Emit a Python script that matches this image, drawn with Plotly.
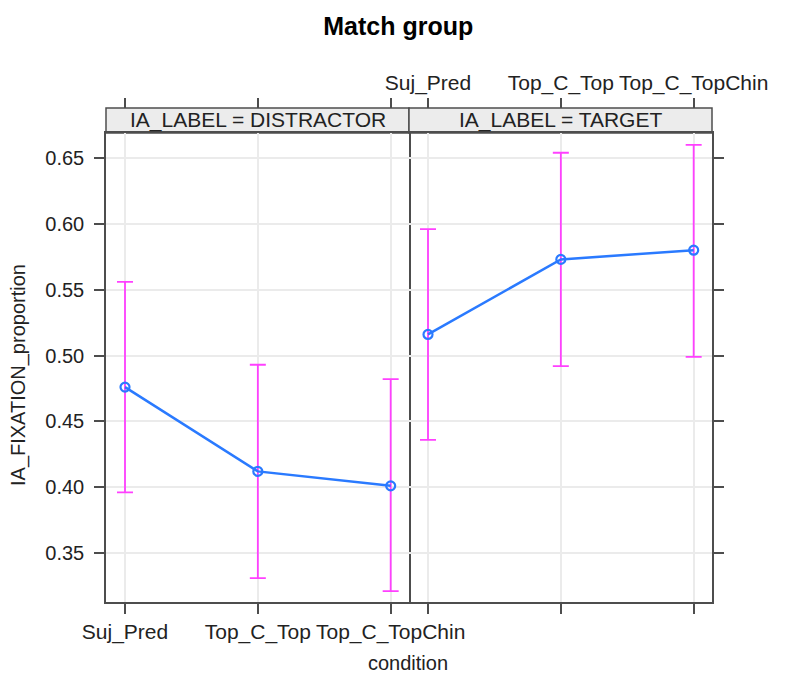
import plotly.graph_objects as go

# effect estimates
conditions = ['Suj_Pred', 'Top_C_Top', 'Top_C_TopChin']
panels = ['DISTRACTOR', 'TARGET']

fit_distractor = [0.476, 0.412, 0.401]
lower_distractor = [0.396, 0.331, 0.321]
upper_distractor = [0.556, 0.493, 0.482]

fit_target = [0.516, 0.573, 0.580]
lower_target = [0.436, 0.492, 0.499]
upper_target = [0.596, 0.654, 0.660]

y_ticks = [0.35, 0.40, 0.45, 0.50, 0.55, 0.60, 0.65]

LINE_BLUE = '#2a7aff'
BAR_PINK = '#ff40ff'
FRAME = '#4d4d4d'
GRID = '#ebebeb'
TEXT = '#222222'

x_idx = list(range(len(conditions)))
x_range = [-0.143, 2.138]
y_range = [0.3128, 0.669]
strip_bottom = 0.9494

fig = go.Figure()

series = [
    (fit_distractor, lower_distractor, upper_distractor, 'x', 'y', 'x3'),
    (fit_target, lower_target, upper_target, 'x2', 'y2', 'x4'),
]
for fit, lo, hi, xa, ya, xtop in series:
    fig.add_trace(
        go.Scatter(
            x=x_idx,
            y=fit,
            xaxis=xa,
            yaxis=ya,
            mode='lines+markers',
            line=dict(color=LINE_BLUE, width=2.5),
            marker=dict(symbol='circle-open', size=9, color=LINE_BLUE, line=dict(width=2.2)),
            error_y=dict(
                type='data',
                array=[h - f for h, f in zip(hi, fit)],
                arrayminus=[f - l for f, l in zip(fit, lo)],
                color=BAR_PINK,
                thickness=1.8,
                width=8,
            ),
            showlegend=False,
        )
    )
    # invisible copy so the top tick axis of the panel gets drawn
    fig.add_trace(
        go.Scatter(
            x=x_idx, y=fit, xaxis=xtop, yaxis=ya,
            mode='markers', marker=dict(opacity=0),
            hoverinfo='skip', showlegend=False,
        )
    )

axis_common = dict(
    showline=True,
    linecolor=FRAME,
    linewidth=1.5,
    mirror=True,
    ticks='outside',
    ticklen=10,
    tickcolor=FRAME,
    tickwidth=1.5,
    showgrid=True,
    gridcolor=GRID,
    gridwidth=1.5,
    zeroline=False,
    tickfont=dict(size=20, color=TEXT),
)

top_common = dict(
    ticks='outside',
    ticklen=10,
    tickcolor=FRAME,
    tickwidth=1.5,
    showgrid=False,
    showline=False,
    zeroline=False,
    anchor='free',
    position=1,
    side='top',
    range=x_range,
    tickmode='array',
    tickvals=x_idx,
    ticktext=conditions,
    tickfont=dict(size=21, color=TEXT),
)

# the page body adds an 8px offset, so the figure is 8px smaller than the window
fig.update_layout(
    width=782,
    height=667,
    margin=dict(l=98, r=78, t=100, b=73),
    paper_bgcolor='white',
    plot_bgcolor='white',
    font=dict(family='Liberation Sans, Arial, sans-serif', size=20, color=TEXT),
    title=dict(
        text='<b>Match group</b>',
        x=0.499,
        y=0.972,
        xanchor='center',
        yanchor='middle',
        font=dict(size=25, color='black'),
    ),
    xaxis=dict(
        axis_common,
        domain=[0, 0.5],
        anchor='y',
        range=x_range,
        tickmode='array',
        tickvals=x_idx,
        ticktext=conditions,
        tickfont=dict(size=21, color=TEXT),
    ),
    xaxis2=dict(
        axis_common,
        domain=[0.5, 1],
        anchor='y2',
        range=x_range,
        tickmode='array',
        tickvals=x_idx,
        ticktext=conditions,
        showticklabels=False,
    ),
    xaxis3=dict(top_common, overlaying='x', showticklabels=False),
    xaxis4=dict(top_common, overlaying='x2', showticklabels=True),
    yaxis=dict(
        axis_common,
        domain=[0, strip_bottom],
        anchor='x',
        range=y_range,
        tickmode='array',
        tickvals=y_ticks,
        tickformat='.2f',
        ticklabelstandoff=6,
    ),
    yaxis2=dict(
        axis_common,
        domain=[0, strip_bottom],
        anchor='x2',
        side='right',
        mirror=False,
        range=y_range,
        tickmode='array',
        tickvals=y_ticks,
        showticklabels=False,
    ),
)

# strip headers above each panel
for i, name in enumerate(panels):
    x0, x1 = i * 0.5, (i + 1) * 0.5
    fig.add_shape(
        type='rect', xref='paper', yref='paper',
        x0=x0, x1=x1, y0=strip_bottom, y1=1,
        fillcolor='#ececec', line=dict(color=FRAME, width=1.5), layer='below',
    )
    fig.add_annotation(
        text=f'IA_LABEL = {name}', xref='paper', yref='paper',
        x=(x0 + x1) / 2, y=(strip_bottom + 1) / 2,
        xanchor='center', yanchor='middle', showarrow=False,
        font=dict(size=21, color=TEXT),
    )

fig.add_annotation(
    text='IA_FIXATION_proportion', xref='paper', yref='paper',
    x=-0.1452, y=0.4595, textangle=-90, xanchor='center', yanchor='middle',
    showarrow=False, font=dict(size=20, color=TEXT),
)

fig.add_annotation(
    text='condition', xref='paper', yref='paper',
    x=0.498, y=-0.1235, xanchor='center', yanchor='middle',
    showarrow=False, font=dict(size=20, color=TEXT),
)

fig.write_html("out.html")
